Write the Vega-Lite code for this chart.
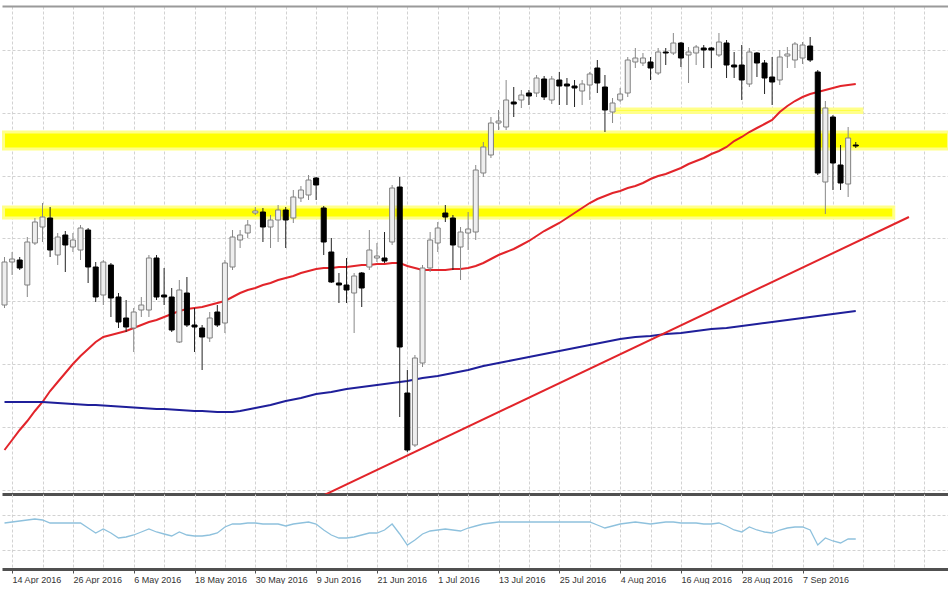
{
  "$schema": "https://vega.github.io/schema/vega-lite/v6.json",
  "padding": {"top": 6, "left": 0, "right": 0, "bottom": 0},
  "background": "white",
  "spacing": 0,
  "config": {
    "view": {"stroke": null},
    "axis": {"gridColor": "#d2d2d2", "gridDash": [3, 2], "gridWidth": 1},
    "axisY": {"labels": false, "ticks": false, "domain": false, "minExtent": 0, "maxExtent": 0}
  },
  "datasets": {
    "bars": [
      {"i":-1,"o":2057.5,"h":2081.5,"l":2056,"c":2079,"m1":1985,"m2":2009,"v":46},
      {"i":0,"o":2079,"h":2084,"l":2072.5,"c":2080.5,"m1":1990,"m2":2009,"v":47},
      {"i":1,"o":2080,"h":2081.5,"l":2075,"c":2076,"m1":1995,"m2":2009,"v":48},
      {"i":2,"o":2067.5,"h":2091.5,"l":2061.5,"c":2089,"m1":1999.5,"m2":2009,"v":49},
      {"i":3,"o":2088.5,"h":2101,"l":2087.5,"c":2099,"m1":2004.5,"m2":2009,"v":50},
      {"i":4,"o":2096.5,"h":2108.5,"l":2089,"c":2101.5,"m1":2009,"m2":2009,"v":49},
      {"i":5,"o":2101,"h":2106.5,"l":2081.5,"c":2085,"m1":2014.5,"m2":2008.75,"v":46},
      {"i":6,"o":2082.5,"h":2093.5,"l":2077.5,"c":2091.5,"m1":2019,"m2":2008.5,"v":46},
      {"i":7,"o":2092.5,"h":2094.5,"l":2074,"c":2087.5,"m1":2023.5,"m2":2008.25,"v":46},
      {"i":8,"o":2086.5,"h":2093.5,"l":2084,"c":2090,"m1":2028,"m2":2008,"v":46},
      {"i":9,"o":2085,"h":2097.5,"l":2080,"c":2096,"m1":2032,"m2":2007.75,"v":46},
      {"i":10,"o":2095,"h":2096,"l":2068.5,"c":2076.5,"m1":2035.5,"m2":2007.5,"v":41},
      {"i":11,"o":2076.5,"h":2079,"l":2059,"c":2061.5,"m1":2039,"m2":2007.5,"v":36},
      {"i":12,"o":2062.5,"h":2080,"l":2057.5,"c":2079,"m1":2041.5,"m2":2007.25,"v":40},
      {"i":13,"o":2077.5,"h":2078.5,"l":2051.5,"c":2061,"m1":2042.5,"m2":2007,"v":36},
      {"i":14,"o":2061.5,"h":2063.5,"l":2046,"c":2049,"m1":2043.5,"m2":2006.75,"v":31},
      {"i":15,"o":2051,"h":2060,"l":2044,"c":2046.5,"m1":2044.5,"m2":2006.5,"v":32},
      {"i":16,"o":2046,"h":2056,"l":2034,"c":2054,"m1":2046,"m2":2006.25,"v":34},
      {"i":17,"o":2055,"h":2061.5,"l":2051.5,"c":2057.5,"m1":2047.5,"m2":2006,"v":37},
      {"i":18,"o":2055,"h":2082.5,"l":2051.5,"c":2081,"m1":2049,"m2":2005.75,"v":40},
      {"i":19,"o":2081,"h":2082.5,"l":2060,"c":2061.5,"m1":2050,"m2":2005.5,"v":37},
      {"i":20,"o":2062.5,"h":2076,"l":2057.5,"c":2061.5,"m1":2051.5,"m2":2005.5,"v":35},
      {"i":21,"o":2061.5,"h":2066,"l":2044,"c":2045,"m1":2053,"m2":2005.25,"v":33},
      {"i":22,"o":2039,"h":2070,"l":2038.5,"c":2065,"m1":2054.5,"m2":2005,"v":37},
      {"i":23,"o":2063.5,"h":2071.5,"l":2046.5,"c":2047.5,"m1":2055.5,"m2":2004.75,"v":34},
      {"i":24,"o":2047.5,"h":2056,"l":2034,"c":2046.5,"m1":2056,"m2":2004.5,"v":33},
      {"i":25,"o":2046,"h":2047.5,"l":2025,"c":2041.5,"m1":2056.5,"m2":2004.5,"v":33},
      {"i":26,"o":2041,"h":2054,"l":2039,"c":2051,"m1":2057.5,"m2":2004.25,"v":34},
      {"i":27,"o":2054,"h":2057.5,"l":2046.5,"c":2047.5,"m1":2058.5,"m2":2004,"v":36},
      {"i":28,"o":2048.5,"h":2080,"l":2043.5,"c":2078.5,"m1":2059.5,"m2":2004,"v":42},
      {"i":29,"o":2076.5,"h":2095,"l":2075,"c":2091.5,"m1":2061.5,"m2":2004,"v":45},
      {"i":30,"o":2090,"h":2095,"l":2086,"c":2092.5,"m1":2063.5,"m2":2004.5,"v":45},
      {"i":31,"o":2093.5,"h":2100,"l":2091,"c":2097.5,"m1":2065,"m2":2005.25,"v":46},
      {"i":32,"o":2103.5,"h":2106.5,"l":2102.5,"c":2104.5,"m1":2066,"m2":2006,"v":46},
      {"i":33,"o":2104,"h":2106,"l":2089,"c":2096.5,"m1":2067.5,"m2":2006.75,"v":45},
      {"i":34,"o":2096.5,"h":2102.5,"l":2086,"c":2100,"m1":2068.5,"m2":2007.5,"v":45},
      {"i":35,"o":2100,"h":2107.5,"l":2089,"c":2105,"m1":2070,"m2":2008.5,"v":45},
      {"i":36,"o":2105,"h":2106.5,"l":2086,"c":2100,"m1":2071,"m2":2009.5,"v":43},
      {"i":37,"o":2101,"h":2115,"l":2098.5,"c":2111.5,"m1":2072,"m2":2010.25,"v":45},
      {"i":38,"o":2111,"h":2117,"l":2109,"c":2115,"m1":2073.5,"m2":2011,"v":46},
      {"i":39,"o":2112.5,"h":2122.5,"l":2110,"c":2120,"m1":2074.5,"m2":2012,"v":47},
      {"i":40,"o":2121,"h":2121.5,"l":2110,"c":2117.5,"m1":2075.5,"m2":2013,"v":45},
      {"i":41,"o":2106,"h":2107,"l":2082.5,"c":2089,"m1":2076,"m2":2013.5,"v":39},
      {"i":42,"o":2084,"h":2091,"l":2068.5,"c":2069,"m1":2076,"m2":2014,"v":34},
      {"i":43,"o":2068.5,"h":2073.5,"l":2058.5,"c":2067.5,"m1":2076.5,"m2":2014.75,"v":31},
      {"i":44,"o":2067.5,"h":2081,"l":2058.5,"c":2065,"m1":2076.5,"m2":2015.5,"v":31},
      {"i":45,"o":2063.5,"h":2073.5,"l":2043.5,"c":2072,"m1":2077,"m2":2016,"v":32},
      {"i":46,"o":2073.5,"h":2074,"l":2056.5,"c":2066,"m1":2077.5,"m2":2016.5,"v":34},
      {"i":47,"o":2076.5,"h":2095,"l":2075,"c":2085,"m1":2077.5,"m2":2017,"v":36},
      {"i":48,"o":2081,"h":2088.5,"l":2079,"c":2082,"m1":2078,"m2":2017.5,"v":36},
      {"i":49,"o":2081,"h":2094,"l":2078.5,"c":2079.5,"m1":2078,"m2":2018,"v":39},
      {"i":50,"o":2089,"h":2117.5,"l":2087.5,"c":2116,"m1":2078.5,"m2":2018.5,"v":45},
      {"i":51,"o":2116.5,"h":2121.5,"l":2001.5,"c":2036.5,"m1":2078.5,"m2":2019,"v":35},
      {"i":52,"o":2013.5,"h":2025,"l":1984,"c":1985,"m1":2077,"m2":2019.5,"v":24},
      {"i":53,"o":1987.5,"h":2032.5,"l":1986.5,"c":2031,"m1":2076,"m2":2020.25,"v":29},
      {"i":54,"o":2028.5,"h":2077.5,"l":2026.5,"c":2076,"m1":2075,"m2":2021,"v":35},
      {"i":55,"o":2076,"h":2094,"l":2074,"c":2090,"m1":2075,"m2":2021.5,"v":38},
      {"i":56,"o":2088.5,"h":2099,"l":2084,"c":2096,"m1":2075,"m2":2022,"v":39},
      {"i":57,"o":2103.5,"h":2107.5,"l":2099,"c":2101.5,"m1":2075,"m2":2022.75,"v":40},
      {"i":58,"o":2101,"h":2102.5,"l":2075,"c":2087.5,"m1":2075.5,"m2":2023.5,"v":39},
      {"i":59,"o":2086.5,"h":2096.5,"l":2070,"c":2094,"m1":2075.5,"m2":2024.25,"v":38},
      {"i":60,"o":2093.5,"h":2104,"l":2085,"c":2095.5,"m1":2076,"m2":2025,"v":41},
      {"i":61,"o":2094,"h":2127.5,"l":2090,"c":2125,"m1":2077,"m2":2026,"v":43},
      {"i":62,"o":2123.5,"h":2139,"l":2121.5,"c":2136.5,"m1":2078.5,"m2":2027,"v":45},
      {"i":63,"o":2132.5,"h":2151.5,"l":2131,"c":2148.5,"m1":2080.5,"m2":2027.75,"v":46},
      {"i":64,"o":2148.5,"h":2155,"l":2145,"c":2149.5,"m1":2082.5,"m2":2028.5,"v":47},
      {"i":65,"o":2146.5,"h":2170,"l":2145,"c":2160,"m1":2084,"m2":2029.25,"v":47},
      {"i":66,"o":2159,"h":2166.5,"l":2151.5,"c":2158,"m1":2085.5,"m2":2030,"v":47},
      {"i":67,"o":2160,"h":2165,"l":2156,"c":2162.5,"m1":2087.5,"m2":2030.75,"v":47},
      {"i":68,"o":2163.5,"h":2165,"l":2157.5,"c":2162,"m1":2089.5,"m2":2031.5,"v":47},
      {"i":69,"o":2163.5,"h":2172.5,"l":2161.5,"c":2171,"m1":2092,"m2":2032.25,"v":47},
      {"i":70,"o":2170.5,"h":2172,"l":2160,"c":2161.5,"m1":2094.5,"m2":2033,"v":47},
      {"i":71,"o":2160,"h":2172,"l":2158,"c":2170.5,"m1":2096.5,"m2":2033.75,"v":47},
      {"i":72,"o":2170,"h":2174,"l":2157.5,"c":2167,"m1":2098.5,"m2":2034.5,"v":47},
      {"i":73,"o":2168,"h":2171,"l":2157.5,"c":2167,"m1":2101,"m2":2035.25,"v":47},
      {"i":74,"o":2167,"h":2170,"l":2156.5,"c":2166,"m1":2103.5,"m2":2036,"v":47},
      {"i":75,"o":2164.5,"h":2170,"l":2157.5,"c":2168,"m1":2106,"m2":2036.75,"v":47},
      {"i":76,"o":2167.5,"h":2174,"l":2160,"c":2173,"m1":2108.5,"m2":2037.5,"v":47},
      {"i":77,"o":2176,"h":2180,"l":2163.5,"c":2168.5,"m1":2110.5,"m2":2038.25,"v":44},
      {"i":78,"o":2166.5,"h":2172.5,"l":2144,"c":2155,"m1":2112,"m2":2039,"v":41},
      {"i":79,"o":2154,"h":2161,"l":2148.5,"c":2158.5,"m1":2113.5,"m2":2039.75,"v":43},
      {"i":80,"o":2160,"h":2166,"l":2159,"c":2163,"m1":2114.5,"m2":2040.5,"v":45},
      {"i":81,"o":2163.5,"h":2181.5,"l":2161.5,"c":2180,"m1":2116,"m2":2041,"v":46},
      {"i":82,"o":2179,"h":2186,"l":2176,"c":2181,"m1":2117,"m2":2041.5,"v":47},
      {"i":83,"o":2178.5,"h":2183.5,"l":2177,"c":2181,"m1":2118.5,"m2":2041.75,"v":46},
      {"i":84,"o":2179,"h":2181.5,"l":2170,"c":2176,"m1":2120.5,"m2":2042,"v":45},
      {"i":85,"o":2173.5,"h":2186,"l":2172.5,"c":2184,"m1":2122,"m2":2042.5,"v":46},
      {"i":86,"o":2184,"h":2186,"l":2177.5,"c":2183.5,"m1":2123,"m2":2043,"v":47},
      {"i":87,"o":2183.5,"h":2193.5,"l":2182.5,"c":2188.5,"m1":2124.5,"m2":2043.25,"v":47},
      {"i":88,"o":2188.5,"h":2189,"l":2176.5,"c":2181,"m1":2126,"m2":2043.5,"v":46},
      {"i":89,"o":2182.5,"h":2186.5,"l":2168.5,"c":2184,"m1":2128,"m2":2044,"v":46},
      {"i":90,"o":2183.5,"h":2187.5,"l":2177.5,"c":2186.5,"m1":2129.5,"m2":2044.5,"v":46},
      {"i":91,"o":2186,"h":2187.5,"l":2176,"c":2185,"m1":2131,"m2":2045,"v":45},
      {"i":92,"o":2186,"h":2186.5,"l":2176,"c":2185,"m1":2133,"m2":2045.5,"v":45},
      {"i":93,"o":2182.5,"h":2193.5,"l":2181.5,"c":2189,"m1":2134.5,"m2":2045.75,"v":46},
      {"i":94,"o":2188.5,"h":2190,"l":2171,"c":2177.5,"m1":2136.5,"m2":2046,"v":43},
      {"i":95,"o":2177.5,"h":2184,"l":2171,"c":2176.5,"m1":2139.5,"m2":2046.5,"v":39},
      {"i":96,"o":2177.5,"h":2187.5,"l":2160,"c":2170,"m1":2141.5,"m2":2047,"v":37},
      {"i":97,"o":2168,"h":2186,"l":2166.5,"c":2184,"m1":2144,"m2":2047.5,"v":42},
      {"i":98,"o":2183.5,"h":2184,"l":2171.5,"c":2178.5,"m1":2146,"m2":2048,"v":39},
      {"i":99,"o":2178.5,"h":2180,"l":2163,"c":2171,"m1":2148,"m2":2048.5,"v":37},
      {"i":100,"o":2171.5,"h":2181.5,"l":2157.5,"c":2169,"m1":2150,"m2":2049,"v":36},
      {"i":101,"o":2170,"h":2185,"l":2167.5,"c":2181.5,"m1":2154,"m2":2049.5,"v":39},
      {"i":102,"o":2182,"h":2186.5,"l":2176,"c":2183,"m1":2157,"m2":2050,"v":41},
      {"i":103,"o":2180,"h":2189,"l":2176,"c":2188,"m1":2159.5,"m2":2050.5,"v":42},
      {"i":104,"o":2181,"h":2189,"l":2178,"c":2187.5,"m1":2161.5,"m2":2051,"v":42},
      {"i":105,"o":2187,"h":2191.5,"l":2179,"c":2180,"m1":2163,"m2":2051.5,"v":39},
      {"i":106,"o":2174,"h":2175,"l":2122.5,"c":2123.5,"m1":2164,"m2":2052,"v":24},
      {"i":107,"o":2119,"h":2159.5,"l":2103,"c":2156,"m1":2165,"m2":2052.5,"v":31},
      {"i":108,"o":2151.5,"h":2152.5,"l":2115,"c":2128.5,"m1":2166,"m2":2053,"v":28},
      {"i":109,"o":2127.5,"h":2137.5,"l":2115,"c":2118.5,"m1":2167,"m2":2053.5,"v":26},
      {"i":110,"o":2118,"h":2146.5,"l":2111.5,"c":2141,"m1":2167.5,"m2":2054,"v":30},
      {"i":111,"o":2137.5,"h":2139,"l":2136,"c":2137,"m1":2168,"m2":2054.5,"v":30}
    ],
    "bands": [
      {"x0": -1.13, "x1": 123.2, "top": 2144, "bot": 2135.5},
      {"x0": -1.13, "x1": 116, "top": 2106.5, "bot": 2101},
      {"x0": 79.3, "x1": 111.8, "top": 2155.5, "bot": 2153.75}
    ],
    "trend": [
      {"i": 40.8, "p": 1962},
      {"i": 118, "p": 2101.5}
    ]
  },
  "vconcat": [
    {
      "width": 948,
      "height": 488,
      "resolve": {"axis": {"x": "independent"}},
      "layer": [
        {
          "data": {"name": "bands"},
          "mark": {"type": "rect", "fill": "#ffff00", "stroke": "#ffff8a", "strokeWidth": 3, "clip": true},
          "encoding": {
            "x": {"field": "x0", "type": "quantitative", "title": null,
                  "scale": {"domain": [-1.33, 123.4], "nice": false, "zero": false, "padding": 0},
                  "axis": {"orient": "top", "labels": false, "ticks": false, "grid": false, "domain": true, "domainColor": "#9a9a9a", "domainWidth": 2}},
            "x2": {"field": "x1"},
            "y": {"field": "top", "type": "quantitative", "title": null,
                  "scale": {"domain": [1963, 2207], "nice": false, "zero": false, "padding": 0},
                  "axis": {"values": [2200.7, 2185, 2169.3, 2153.6, 2137.9, 2122.2, 2106.5, 2090.8, 2075.1, 2059.4, 2043.7, 2028, 2012.3, 1996.6, 1980.9, 1965.2],
                           "grid": true, "labels": false, "ticks": false, "domain": false, "minExtent": 0, "maxExtent": 0}},
            "y2": {"field": "bot"}
          }
        },
        {
          "data": {"name": "bars"},
          "mark": {"type": "line", "color": "#e2242a", "strokeWidth": 2},
          "encoding": {
            "x": {"field": "i", "type": "quantitative", "title": null, "axis": null, "scale": {"domain": [-1.33, 123.4], "nice": false, "zero": false, "padding": 0}},
            "y": {"field": "m1", "type": "quantitative", "title": null, "scale": {"domain": [1963, 2207], "nice": false, "zero": false, "padding": 0}}
          }
        },
        {
          "data": {"name": "bars"},
          "mark": {"type": "line", "color": "#1f1f9a", "strokeWidth": 2},
          "encoding": {
            "x": {"field": "i", "type": "quantitative", "title": null, "axis": null, "scale": {"domain": [-1.33, 123.4], "nice": false, "zero": false, "padding": 0}},
            "y": {"field": "m2", "type": "quantitative", "title": null, "scale": {"domain": [1963, 2207], "nice": false, "zero": false, "padding": 0}}
          }
        },
        {
          "data": {"name": "trend"},
          "mark": {"type": "line", "color": "#e2242a", "strokeWidth": 2, "clip": true},
          "encoding": {
            "x": {"field": "i", "type": "quantitative", "title": null, "axis": null, "scale": {"domain": [-1.33, 123.4], "nice": false, "zero": false, "padding": 0}},
            "y": {"field": "p", "type": "quantitative", "title": null, "scale": {"domain": [1963, 2207], "nice": false, "zero": false, "padding": 0}}
          }
        },
        {
          "data": {"name": "bars"},
          "mark": {"type": "rule", "strokeWidth": 1},
          "encoding": {
            "x": {"field": "i", "type": "quantitative", "title": null, "axis": null, "scale": {"domain": [-1.33, 123.4], "nice": false, "zero": false, "padding": 0}},
            "y": {"field": "l", "type": "quantitative", "title": null, "scale": {"domain": [1963, 2207], "nice": false, "zero": false, "padding": 0}},
            "y2": {"field": "h"},
            "color": {"condition": {"test": "datum.c < datum.o", "value": "#222222"}, "value": "#888888"}
          }
        },
        {
          "data": {"name": "bars"},
          "mark": {"type": "bar", "width": 5, "strokeWidth": 1},
          "encoding": {
            "x": {"field": "i", "type": "quantitative", "title": null,
                  "scale": {"domain": [-1.33, 123.4], "nice": false, "zero": false, "padding": 0},
                  "axis": {"orient": "bottom", "values": [0,4,8,12,16,20,24,28,32,36,40,44,48,52,56,60,64,68,72,76,80,84,88,92,96,100,104,108,112,116,120],
                           "grid": true, "labels": false, "ticks": false, "domain": true, "domainColor": "#505050", "domainWidth": 3}},
            "y": {"field": "o", "type": "quantitative", "title": null, "scale": {"domain": [1963, 2207], "nice": false, "zero": false, "padding": 0}},
            "y2": {"field": "c"},
            "fill": {"condition": {"test": "datum.c < datum.o", "value": "#000000"}, "value": "#eeeeee"},
            "stroke": {"condition": {"test": "datum.c < datum.o", "value": "#000000"}, "value": "#808080"}
          }
        }
      ]
    },
    {
      "width": 948,
      "height": 75,
      "data": {"name": "bars"},
      "mark": {"type": "line", "color": "#8ec1dd", "strokeWidth": 1.3},
      "encoding": {
        "x": {"field": "i", "type": "quantitative", "title": null,
              "scale": {"domain": [-1.33, 123.4], "nice": false, "zero": false, "padding": 0},
              "axis": {"values": [0,4,8,12,16,20,24,28,32,36,40,44,48,52,56,60,64,68,72,76,80,84,88,92,96,100,104,108,112,116,120],
                       "grid": true, "domain": true, "domainColor": "#505050", "domainWidth": 3,
                       "ticks": true, "tickSize": 4, "tickColor": "#505050",
                       "tickOpacity": {"condition": {"test": "datum.value % 8 == 0 && datum.value <= 104", "value": 1}, "value": 0},
                       "labelExpr": "datum.value % 8 == 0 && datum.value <= 104 ? ['14 Apr 2016','26 Apr 2016','6 May 2016','18 May 2016','30 May 2016','9 Jun 2016','21 Jun 2016','1 Jul 2016','13 Jul 2016','25 Jul 2016','4 Aug 2016','16 Aug 2016','28 Aug 2016','7 Sep 2016'][datum.value / 8] : ''",
                       "labelAlign": "left", "labelFontSize": 9, "labelFont": "Liberation Sans", "labelColor": "#333333",
                       "labelPadding": 2, "labelOverlap": false, "labelFlush": false}},
        "y": {"field": "v", "type": "quantitative", "title": null,
              "scale": {"domain": [0, 75], "nice": false, "zero": false},
              "axis": {"values": [19, 54], "grid": true, "labels": false, "ticks": false, "domain": false, "minExtent": 0, "maxExtent": 0}}
      }
    }
  ]
}
